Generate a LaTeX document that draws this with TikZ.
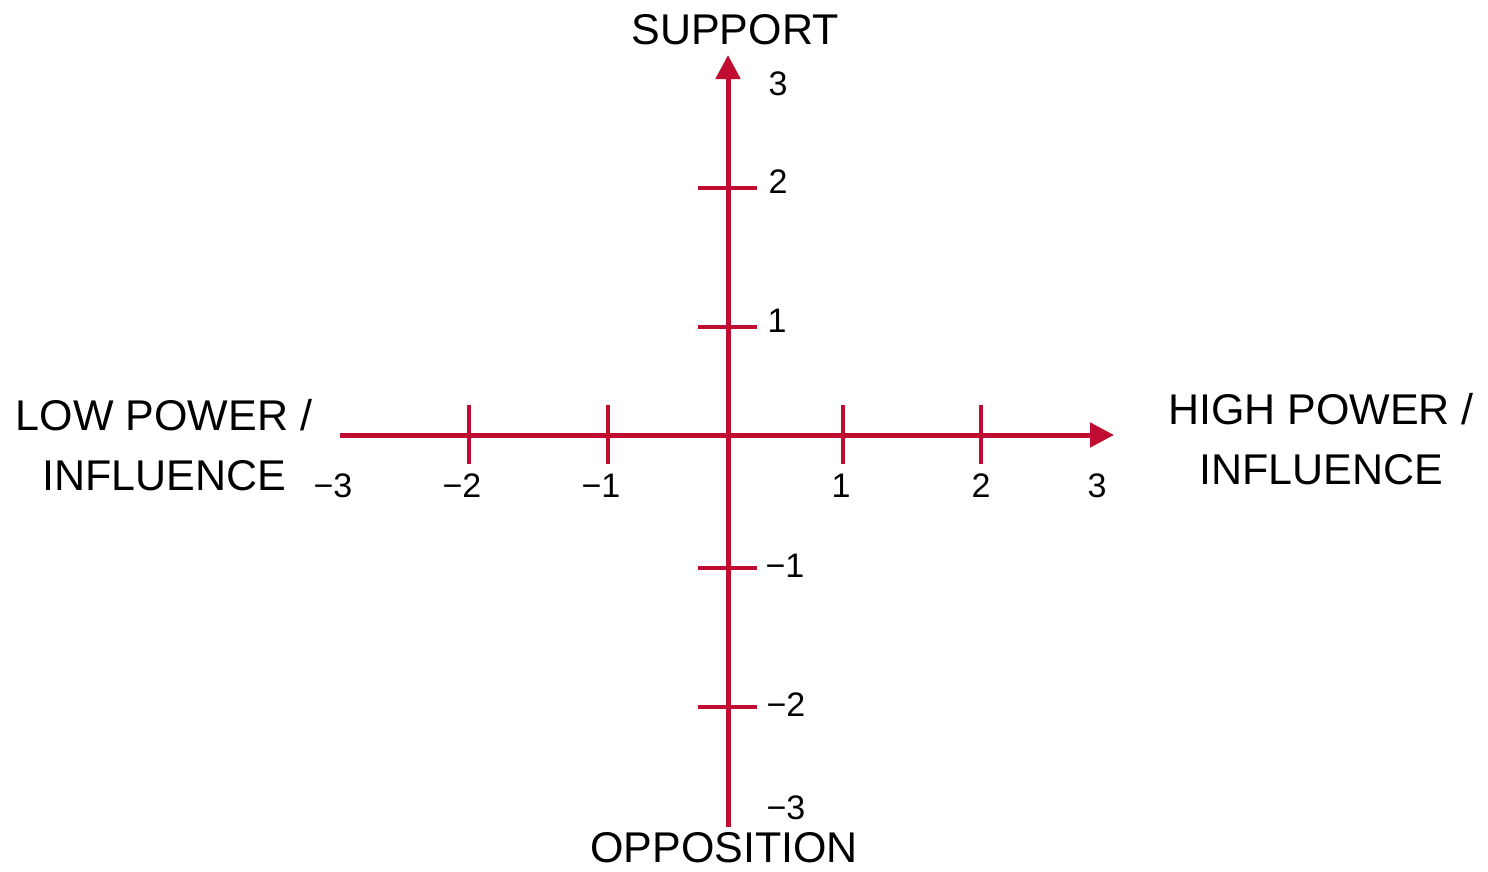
\documentclass[tikz,border=0pt]{standalone}
\usepackage{fontspec}
\setmainfont{Liberation Sans}
\usetikzlibrary{arrows.meta}
\definecolor{axred}{HTML}{C00C30}
\begin{document}
\begin{tikzpicture}[x=1pt,y=-1pt,
  axis/.style={draw=axred,line width=5pt,-{Triangle[length=24pt,width=24pt]}},
  tick/.style={draw=axred,line width=3.2pt},
  big/.style={font=\fontsize{43}{60}\selectfont,inner sep=0pt,align=center},
  title/.style={font=\fontsize{43}{50}\selectfont,inner sep=0pt},
  num/.style={font=\fontsize{34}{40}\selectfont,inner sep=0pt}]
\useasboundingbox (0,0) rectangle (1488,871);
% axes endpoints
\coordinate (xl) at (340,435);
\coordinate (xr) at (1114,435);
\coordinate (yb) at (728,827);
\coordinate (yt) at (728,55);
\draw[axis] (xl) -- (xr);
\draw[axis] (yb) -- (yt);
% horizontal ticks
\foreach \x in {469,608,843,981}{
  \coordinate (ht\x a) at (\x,405);
  \coordinate (ht\x b) at (\x,464);
  \draw[tick] (ht\x a) -- (ht\x b);
}
% vertical ticks
\foreach \y in {188,327,568,707}{
  \coordinate (vt\y a) at (698,\y);
  \coordinate (vt\y b) at (757,\y);
  \draw[tick] (vt\y a) -- (vt\y b);
}
% horizontal tick labels
\node[num] (hm3) at (333,486) {−3};
\node[num] (hm2) at (462,486) {−2};
\node[num] (hm1) at (601,486) {−1};
\node[num] (hp1) at (841,486) {1};
\node[num] (hp2) at (981,486) {2};
\node[num] (hp3) at (1097,486) {3};
% vertical tick labels
\node[num] (vp3) at (778,84) {3};
\node[num] (vp2) at (778,182) {2};
\node[num] (vp1) at (777,321) {1};
\node[num] (vm1) at (785,566) {−1};
\node[num] (vm2) at (786,705) {−2};
\node[num] (vm3) at (786,808) {−3};
% axis titles
\node[title,anchor=base] (sup) at (735,44) {SUPPORT};
\node[title,anchor=base] (opp) at (724,862) {OPPOSITION};
\node[big] (low) at (164,445) {LOW POWER /\\INFLUENCE};
\node[big] (high) at (1321,439) {HIGH POWER /\\INFLUENCE};
\end{tikzpicture}
\end{document}
